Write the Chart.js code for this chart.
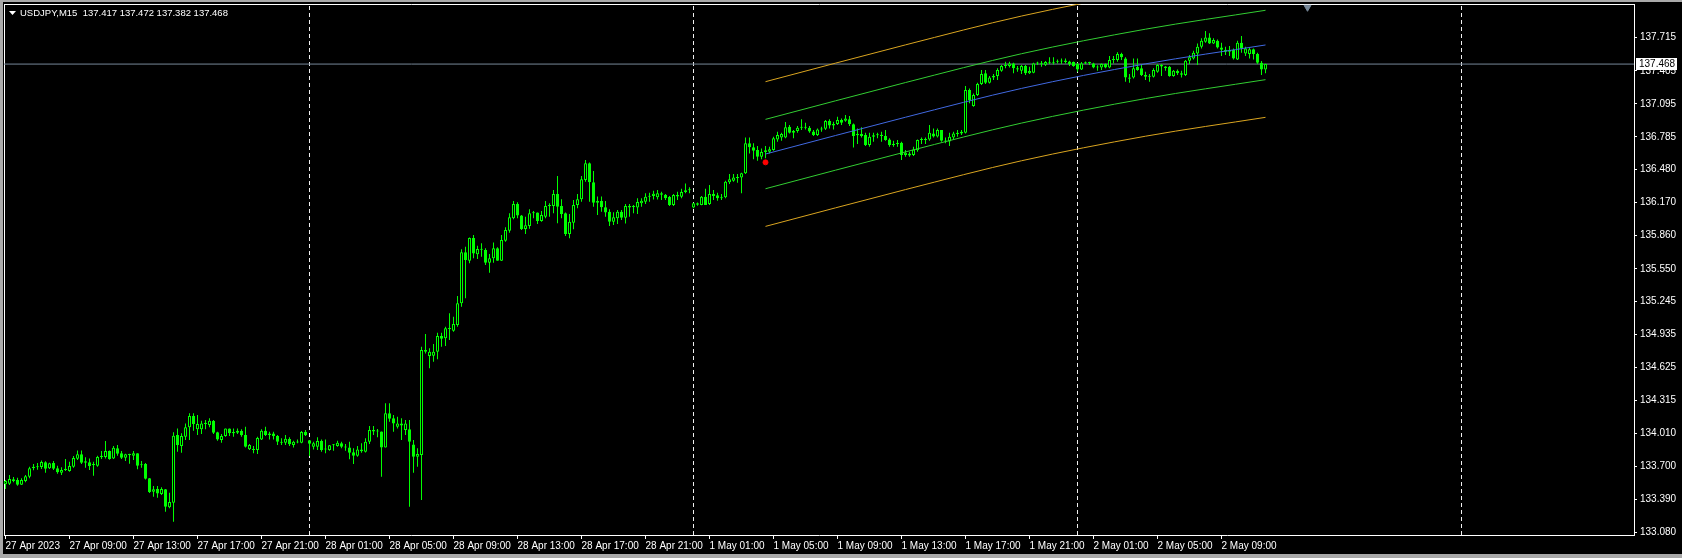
<!DOCTYPE html>
<html>
<head>
<meta charset="utf-8">
<title>USDJPY,M15</title>
<script src="https://cdn.jsdelivr.net/npm/chart.js@4.4.0/dist/chart.umd.min.js"></script>
<style>
  html, body { margin:0; padding:0; width:1682px; height:558px; overflow:hidden; background:#a9a9a9; }
  #wrap { position:absolute; left:3px; top:2px; width:1679px; height:552px; background:#000; }
  canvas { display:block; }
</style>
</head>
<body>
<div id="wrap"><canvas id="myChart" width="1679" height="552" style="width:1679px;height:552px"></canvas></div>
<script>
var ctx;
var myChart;

// USDJPY M15, one entry per bar: 27 Apr 05:00 ... 2 May 11:45
var opens = [
  133.530,133.536,133.577,133.571,133.527,133.561,133.602,133.683,133.689,133.692,
  133.736,133.680,133.730,133.680,133.639,133.664,133.655,133.695,133.770,133.811,
  133.733,133.736,133.711,133.705,133.786,133.786,133.842,133.773,133.867,133.820,
  133.780,133.811,133.798,133.820,133.708,133.720,133.586,133.461,133.486,133.439,
  133.483,133.314,133.358,133.992,133.889,133.976,134.064,134.170,134.045,134.045,
  134.095,134.086,134.123,134.017,133.945,133.983,134.054,134.008,134.014,134.030,
  133.992,133.858,133.858,133.851,133.951,134.033,133.992,134.005,133.983,133.930,
  133.920,133.955,133.898,133.930,133.920,134.020,133.942,133.882,133.882,133.935,
  133.857,133.851,133.895,133.889,133.914,133.885,133.876,133.830,133.798,133.857,
  133.836,133.929,134.039,134.025,134.026,133.876,134.195,134.148,134.070,134.101,
  134.039,134.045,133.904,133.789,133.804,134.788,134.732,134.735,134.773,134.920,
  134.898,134.985,134.970,135.023,135.226,135.704,135.626,135.838,135.685,135.735,
  135.726,135.607,135.648,135.741,135.625,135.813,135.907,136.023,136.157,136.050,
  135.923,135.951,136.069,136.076,135.998,136.038,136.138,136.138,136.251,136.138,
  136.069,135.876,135.982,136.148,136.201,136.382,136.538,136.360,136.169,136.185,
  136.126,136.085,135.991,136.023,136.085,136.028,136.125,136.138,136.125,136.163,
  136.178,136.225,136.232,136.219,136.257,136.244,136.222,136.147,136.241,136.225,
  136.269,136.285,136.125,136.163,136.147,136.225,136.157,136.250,136.238,136.210,
  136.219,136.360,136.375,136.406,136.406,136.444,136.725,136.688,136.663,136.600,
  136.644,136.647,136.663,136.762,136.781,136.781,136.881,136.825,136.840,136.871,
  136.878,136.871,136.837,136.803,136.856,136.862,136.934,136.893,136.906,136.943,
  136.937,136.950,136.903,136.800,136.812,136.803,136.709,136.787,136.800,136.806,
  136.793,136.762,136.709,136.718,136.731,136.615,136.631,136.615,136.660,136.756,
  136.762,136.762,136.818,136.790,136.850,136.750,136.743,136.781,136.812,136.818,
  136.825,137.225,137.075,137.178,137.281,137.381,137.293,137.343,137.356,137.406,
  137.449,137.449,137.474,137.428,137.406,137.449,137.381,137.387,137.474,137.481,
  137.462,137.487,137.481,137.490,137.499,137.502,137.493,137.487,137.468,137.418,
  137.474,137.484,137.474,137.443,137.437,137.468,137.437,137.506,137.506,137.562,
  137.521,137.343,137.343,137.443,137.428,137.365,137.350,137.350,137.396,137.459,
  137.446,137.443,137.356,137.406,137.381,137.365,137.499,137.521,137.568,137.631,
  137.677,137.718,137.662,137.687,137.624,137.602,137.584,137.599,137.512,137.668,
  137.568,137.562,137.606,137.562,137.481,137.417
];
var highs = [
  133.571,133.617,133.599,133.592,133.586,133.617,133.695,133.720,133.730,133.752,
  133.745,133.733,133.748,133.705,133.689,133.767,133.742,133.795,133.848,133.848,
  133.783,133.773,133.742,133.798,133.842,133.936,133.848,133.889,133.898,133.842,
  133.817,133.817,133.842,133.820,133.748,133.730,133.589,133.514,133.514,133.502,
  133.486,133.452,134.017,134.054,134.008,134.101,134.195,134.195,134.179,134.126,
  134.133,134.148,134.133,134.023,134.001,134.054,134.054,134.054,134.054,134.045,
  134.070,133.908,133.889,133.976,134.045,134.070,134.023,134.023,133.992,133.961,
  133.992,133.970,133.939,133.951,134.030,134.039,133.945,133.929,133.970,133.951,
  133.951,133.898,133.907,133.939,133.929,133.907,133.929,133.867,133.889,133.914,
  133.961,134.076,134.076,134.048,134.026,134.289,134.289,134.179,134.164,134.148,
  134.132,134.132,133.945,133.867,134.820,134.938,134.804,134.845,134.951,134.951,
  135.007,135.132,135.101,135.295,135.732,135.757,135.844,135.866,135.766,135.788,
  135.741,135.688,135.797,135.751,135.866,135.938,136.069,136.185,136.173,136.054,
  136.038,136.107,136.091,136.076,136.091,136.185,136.163,136.288,136.419,136.201,
  136.076,136.063,136.194,136.251,136.419,136.569,136.545,136.466,136.226,136.226,
  136.185,136.107,136.079,136.101,136.100,136.157,136.157,136.147,136.210,136.210,
  136.257,136.263,136.282,136.288,136.272,136.250,136.232,136.250,136.272,136.300,
  136.350,136.313,136.169,136.172,136.232,136.300,136.335,136.288,136.263,136.250,
  136.375,136.438,136.438,136.438,136.450,136.781,136.781,136.725,136.700,136.678,
  136.700,136.694,136.788,136.835,136.825,136.925,136.896,136.850,136.887,136.950,
  136.918,136.887,136.850,136.865,136.881,136.943,136.950,136.928,136.975,136.959,
  136.990,136.981,136.912,136.865,136.875,136.825,136.825,136.825,136.825,136.834,
  136.850,136.772,136.750,136.756,136.740,136.662,136.647,136.693,136.762,136.781,
  136.781,136.896,136.865,136.865,136.850,136.781,136.825,136.834,136.850,136.850,
  137.262,137.240,137.193,137.293,137.412,137.412,137.356,137.374,137.428,137.459,
  137.490,137.490,137.481,137.449,137.459,137.459,137.443,137.481,137.490,137.496,
  137.496,137.531,137.531,137.512,137.521,137.521,137.499,137.493,137.481,137.487,
  137.493,137.490,137.481,137.456,137.474,137.474,137.543,137.543,137.578,137.574,
  137.531,137.374,137.521,137.521,137.468,137.396,137.374,137.428,137.468,137.468,
  137.449,137.449,137.412,137.418,137.406,137.506,137.553,137.593,137.662,137.709,
  137.777,137.756,137.709,137.699,137.668,137.631,137.637,137.615,137.687,137.731,
  137.631,137.624,137.615,137.574,137.496,137.472
];
var lows = [
  133.486,133.524,133.549,133.517,133.524,133.549,133.586,133.661,133.667,133.674,
  133.639,133.674,133.664,133.630,133.617,133.655,133.648,133.686,133.758,133.720,
  133.686,133.664,133.611,133.695,133.767,133.773,133.761,133.767,133.798,133.767,
  133.748,133.723,133.758,133.670,133.686,133.574,133.449,133.414,133.405,133.430,
  133.273,133.305,133.180,133.836,133.826,133.945,133.945,134.033,133.992,134.001,
  134.045,134.064,134.001,133.939,133.920,133.976,133.983,133.976,134.001,133.976,
  133.876,133.851,133.820,133.814,133.945,133.983,133.951,133.951,133.898,133.898,
  133.898,133.889,133.876,133.914,133.914,133.983,133.795,133.857,133.851,133.836,
  133.820,133.845,133.845,133.882,133.867,133.845,133.764,133.720,133.789,133.826,
  133.829,133.907,133.992,133.970,133.601,133.876,134.117,134.023,134.054,133.945,
  133.992,133.320,133.639,133.695,133.383,134.757,134.617,134.679,134.701,134.820,
  134.826,134.882,134.960,135.007,135.195,135.273,135.601,135.648,135.641,135.663,
  135.585,135.513,135.607,135.625,135.622,135.804,135.888,136.013,136.023,135.913,
  135.876,135.926,136.023,135.969,135.991,136.023,136.038,136.069,135.976,136.023,
  135.857,135.835,135.920,136.116,136.179,136.366,136.179,136.132,136.054,136.085,
  136.038,135.951,135.960,135.969,136.006,135.975,136.038,136.069,136.063,136.132,
  136.157,136.178,136.200,136.200,136.194,136.194,136.138,136.138,136.194,136.210,
  136.257,136.257,136.116,136.141,136.144,136.147,136.147,136.194,136.188,136.194,
  136.210,136.344,136.366,136.357,136.257,136.438,136.631,136.575,136.563,136.575,
  136.585,136.631,136.656,136.741,136.750,136.772,136.818,136.772,136.825,136.850,
  136.856,136.825,136.793,136.793,136.834,136.850,136.865,136.856,136.896,136.896,
  136.928,136.887,136.687,136.718,136.781,136.700,136.693,136.740,136.772,136.740,
  136.750,136.693,136.693,136.693,136.568,136.600,136.600,136.606,136.647,136.718,
  136.718,136.750,136.781,136.781,136.740,136.725,136.700,136.762,136.787,136.803,
  136.818,137.100,137.068,137.168,137.272,137.281,137.287,137.318,137.318,137.396,
  137.428,137.437,137.381,137.396,137.374,137.365,137.374,137.381,137.459,137.443,
  137.449,137.468,137.465,137.474,137.468,137.474,137.449,137.443,137.396,137.412,
  137.468,137.459,137.428,137.406,137.412,137.428,137.428,137.474,137.490,137.506,
  137.303,137.293,137.334,137.406,137.356,137.318,137.303,137.343,137.387,137.356,
  137.406,137.350,137.350,137.365,137.343,137.356,137.468,137.512,137.459,137.615,
  137.668,137.656,137.656,137.615,137.543,137.553,137.543,137.512,137.506,137.574,
  137.543,137.521,137.512,137.468,137.365,137.382
];
var closes = [
  133.561,133.580,133.561,133.527,133.571,133.605,133.680,133.695,133.698,133.739,
  133.677,133.727,133.677,133.642,133.664,133.677,133.702,133.777,133.811,133.733,
  133.745,133.702,133.717,133.786,133.798,133.842,133.767,133.873,133.817,133.780,
  133.811,133.805,133.820,133.705,133.711,133.583,133.458,133.483,133.445,133.486,
  133.320,133.364,133.986,133.898,133.983,134.064,134.170,134.095,134.095,134.101,
  134.108,134.126,134.014,133.951,133.983,134.054,134.008,134.020,134.033,133.990,
  133.883,133.898,133.851,133.964,134.033,133.992,134.005,133.980,133.930,133.920,
  133.958,133.905,133.930,133.922,134.020,133.990,133.911,133.914,133.935,133.851,
  133.864,133.895,133.898,133.920,133.882,133.876,133.826,133.798,133.857,133.840,
  133.929,134.039,134.025,134.029,133.876,134.195,134.145,134.101,134.101,134.080,
  134.101,133.929,133.789,133.814,134.788,134.773,134.773,134.773,134.920,134.895,
  134.992,134.992,135.032,135.226,135.704,135.632,135.838,135.694,135.735,135.729,
  135.607,135.648,135.741,135.625,135.819,135.913,136.032,136.157,136.050,135.923,
  135.957,136.069,136.076,135.998,136.054,136.138,136.148,136.251,136.132,136.063,
  135.876,135.991,136.148,136.201,136.388,136.538,136.360,136.169,136.185,136.126,
  136.076,135.991,136.032,136.085,136.028,136.138,136.138,136.128,136.175,136.188,
  136.225,136.228,136.252,136.257,136.244,136.210,136.147,136.241,136.228,136.269,
  136.285,136.291,136.163,136.150,136.225,136.147,136.250,136.232,136.210,136.219,
  136.366,136.388,136.406,136.400,136.444,136.725,136.688,136.656,136.600,136.644,
  136.660,136.669,136.772,136.803,136.813,136.875,136.825,136.840,136.871,136.878,
  136.871,136.837,136.803,136.856,136.865,136.934,136.893,136.906,136.943,136.918,
  136.959,136.906,136.793,136.812,136.793,136.709,136.787,136.800,136.806,136.793,
  136.756,136.709,136.718,136.725,136.615,136.637,136.612,136.668,136.756,136.762,
  136.756,136.825,136.790,136.850,136.750,136.743,136.787,136.818,136.825,136.834,
  137.225,137.131,137.178,137.281,137.374,137.293,137.343,137.356,137.412,137.449,
  137.455,137.474,137.428,137.418,137.449,137.381,137.404,137.474,137.481,137.471,
  137.487,137.481,137.490,137.499,137.493,137.487,137.468,137.449,137.418,137.474,
  137.484,137.478,137.437,137.437,137.468,137.437,137.506,137.512,137.562,137.531,
  137.343,137.331,137.428,137.412,137.365,137.350,137.359,137.412,137.459,137.446,
  137.431,137.356,137.406,137.381,137.368,137.499,137.531,137.574,137.631,137.687,
  137.718,137.662,137.693,137.624,137.602,137.584,137.599,137.521,137.668,137.615,
  137.615,137.606,137.562,137.481,137.418,137.468
];

// time axis: bar index of each label, and the label
var xTickBars = [0,16,32,48,64,80,96,112,128,144,160,176,192,208,224,240,256,272,288,304];
var xTickLabels = ['27 Apr 2023','27 Apr 09:00','27 Apr 13:00','27 Apr 17:00','27 Apr 21:00',
  '28 Apr 01:00','28 Apr 05:00','28 Apr 09:00','28 Apr 13:00','28 Apr 17:00','28 Apr 21:00',
  '1 May 01:00','1 May 05:00','1 May 09:00','1 May 13:00','1 May 17:00','1 May 21:00',
  '2 May 01:00','2 May 05:00','2 May 09:00'];
var daySeparators = [76,172,268,364];

// price axis
var yTickValues = [137.715,137.405,137.095,136.785,136.480,136.170,135.860,135.550,
  135.245,134.935,134.625,134.315,134.010,133.700,133.390,133.080];

// regression channel (read at a few bars)
var channelBars = [190,225,254,285,315];
var channelMid = [136.625,136.970,137.240,137.470,137.647];
var channelUp1 = [136.950,137.295,137.565,137.795,137.972];
var channelDn1 = [136.300,136.645,136.915,137.145,137.322];
var channelUp2 = [137.303,137.648,137.918,138.148,138.325];
var channelDn2 = [135.947,136.292,136.562,136.792,136.969];

var signalBar = 190;
var signalPrice = 136.547;
var shiftBar = 325.5;
var shiftPrice = 138.0;

var xMin = -0.375, xMax = 407.125;
var yMin = 133.055, yMax = 138.031;

var lastBar = closes.length - 1;
var bid = closes[lastBar];

function fmt(v){ return v.toFixed(3); }

function wickData(){
  var out = [];
  for (var i = 0; i < opens.length; i++){
    out.push({x: i, y: [lows[i], highs[i]]});
  }
  return out;
}

function bodyData(){
  var out = [];
  for (var i = 0; i < opens.length; i++){
    out.push({x: i, y: [opens[i], closes[i]]});
  }
  return out;
}

function curve(values){
  return channelBars.map(function(b, k){ return {x: b, y: values[k]}; });
}

function separatorData(){
  var out = [];
  daySeparators.forEach(function(b){
    out.push({x: b, y: yMin}, {x: b, y: yMax}, {x: b, y: null});
  });
  return out;
}

function channelLine(values, color){
  return {
    type: 'line', data: curve(values), xAxisID: 'x', yAxisID: 'y',
    borderColor: color, borderWidth: 1, pointRadius: 0,
    cubicInterpolationMode: 'monotone', order: 2
  };
}

// no label overhang padding: keep the plot frame where the terminal has it
function noPad(s){
  s.paddingLeft = 0; s.paddingRight = 0; s.paddingTop = 0; s.paddingBottom = 0;
}

var overlay = {
  id: 'overlay',
  afterDraw: function(chart){
    var c = chart.ctx;
    var area = chart.chartArea;
    c.save();
    c.fillStyle = '#ffffff';
    c.beginPath(); c.moveTo(6, 9); c.lineTo(13, 9); c.lineTo(9.5, 13); c.closePath(); c.fill();
    c.font = '9.5px "Liberation Sans", Arial, sans-serif';
    c.textBaseline = 'middle';
    c.textAlign = 'left';
    var head = 'USDJPY,M15  ' + [opens[lastBar], highs[lastBar], lows[lastBar], closes[lastBar]].map(fmt).join(' ');
    c.fillText(head, 17, 11);
    var py = Math.round(chart.scales.y.getPixelForValue(bid));
    c.fillStyle = '#ffffff';
    c.fillRect(area.right + 2, py - 6, 41, 12);
    c.fillStyle = '#000000';
    c.font = '10px "Liberation Sans", Arial, sans-serif';
    c.fillText(fmt(bid), area.right + 5, py + 0.5);
    c.restore();
  }
};

window.onload = function(){
  Chart.defaults.font.family = '"Liberation Sans", Arial, sans-serif';
  Chart.defaults.font.size = 10;
  ctx = document.getElementById('myChart').getContext('2d');

  myChart = new Chart(ctx, {
    type: 'bar',
    data: {
      datasets: [
        {
          type: 'line', data: separatorData(), xAxisID: 'x', yAxisID: 'y',
          borderColor: '#f0f0f0', borderWidth: 1, borderDash: [4, 3],
          pointRadius: 0, spanGaps: false, order: 10
        },
        {
          type: 'line', data: [{x: xMin, y: bid}, {x: xMax, y: bid}], xAxisID: 'x', yAxisID: 'y',
          borderColor: '#778899', borderWidth: 1, pointRadius: 0, order: 9
        },
        {
          data: wickData(), xAxisID: 'x', yAxisID: 'y',
          backgroundColor: '#00ff00', borderWidth: 0,
          barThickness: 1, maxBarThickness: 1, grouped: false, inflateAmount: 0, order: 5
        },
        {
          data: bodyData(), xAxisID: 'x', yAxisID: 'y',
          backgroundColor: function(c){
            var i = c.dataIndex;
            return closes[i] >= opens[i] ? '#000000' : '#00ff00';
          },
          borderColor: '#00ff00', borderWidth: 1, borderSkipped: false,
          barThickness: 3, maxBarThickness: 3, minBarLength: 1,
          grouped: false, inflateAmount: 0, order: 4
        },
        channelLine(channelUp2, '#daa520'),
        channelLine(channelUp1, '#32cd32'),
        channelLine(channelMid, '#4169e1'),
        channelLine(channelDn1, '#32cd32'),
        channelLine(channelDn2, '#daa520'),
        {
          type: 'line', data: [{x: signalBar, y: signalPrice}], xAxisID: 'x', yAxisID: 'y',
          showLine: false, pointRadius: 2.5, pointBackgroundColor: '#ff0000',
          pointBorderColor: '#ff0000', order: 1
        },
        {
          type: 'line', data: [{x: shiftBar, y: shiftPrice}], xAxisID: 'x', yAxisID: 'y',
          showLine: false, pointStyle: 'triangle', rotation: 180, pointRadius: 4,
          pointBackgroundColor: '#778899', pointBorderColor: '#778899', clip: false, order: 0
        }
      ]
    },
    options: {
      responsive: false,
      animation: false,
      devicePixelRatio: 1,
      layout: { autoPadding: false, padding: { left: 1, top: 2, right: 0, bottom: 0 } },
      plugins: {
        legend: { display: false },
        tooltip: { enabled: false },
        title: { display: false }
      },
      scales: {
        x: {
          type: 'linear', position: 'bottom', min: xMin, max: xMax, offset: false,
          grid: { display: true, offset: false, drawOnChartArea: false, drawTicks: true,
                  tickLength: 4, color: '#ffffff', tickColor: '#ffffff' },
          border: { display: true, color: '#ffffff', width: 1 },
          ticks: {
            color: '#ffffff', align: 'start', padding: 1, autoSkip: false, maxRotation: 0,
            callback: function(v, i){ return xTickLabels[i]; }
          },
          afterBuildTicks: function(s){ s.ticks = xTickBars.map(function(b){ return {value: b}; }); },
          afterFit: function(s){ s.height = 19; noPad(s); }
        },
        y: {
          type: 'linear', position: 'right', min: yMin, max: yMax, beginAtZero: false,
          grid: { drawOnChartArea: false, drawTicks: true, tickLength: 3,
                  color: '#ffffff', tickColor: '#ffffff' },
          border: { display: true, color: '#ffffff', width: 1 },
          ticks: {
            color: '#ffffff', padding: 3, autoSkip: false,
            callback: function(v){ return fmt(v); }
          },
          afterBuildTicks: function(s){ s.ticks = yTickValues.map(function(v){ return {value: v}; }); },
          afterFit: function(s){ s.width = 48; noPad(s); }
        },
        xTop: {
          type: 'linear', position: 'top', grid: { display: false },
          ticks: { display: false }, border: { display: true, color: '#ffffff', width: 1 },
          afterFit: function(s){ s.height = 0; noPad(s); }
        },
        yLeft: {
          type: 'linear', position: 'left', grid: { display: false },
          ticks: { display: false }, border: { display: true, color: '#ffffff', width: 1 },
          afterFit: function(s){ s.width = 0; noPad(s); }
        }
      }
    },
    plugins: [overlay]
  });
};
</script>
</body>
</html>
